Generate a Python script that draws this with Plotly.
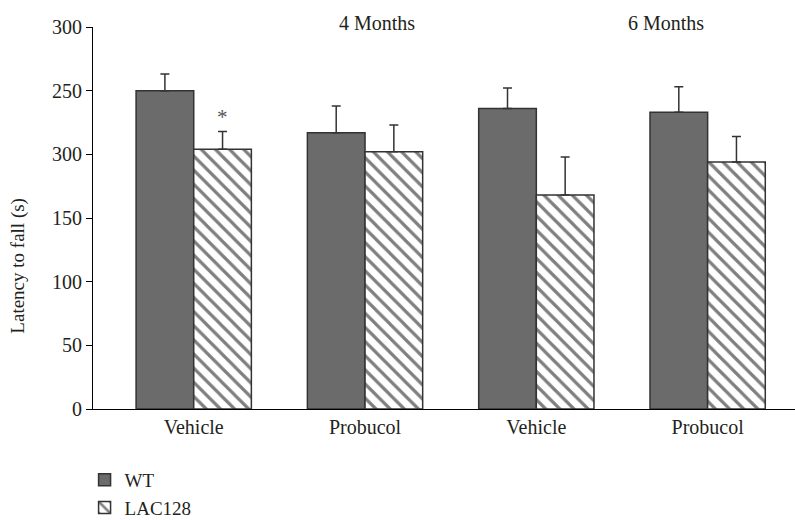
import plotly.graph_objects as go

# Latency to fall on the rotarod, by treatment and genotype
groups = ["Vehicle", "Probucol", "Vehicle", "Probucol"]
wt_mean = [250, 217, 236, 233]
wt_err = [13, 21, 16, 20]
lac_mean = [204, 202, 168, 194]
lac_err = [14, 21, 30, 20]
ytick_vals = [0, 50, 100, 150, 200, 250, 300]
ytick_text = ["0", "50", "100", "150", "300", "250", "300"]
ages = ["4 Months", "6 Months"]

FONT = "Liberation Serif"
INK = "#231f20"
xpos = list(range(len(groups)))

fig = go.Figure()
fig.add_trace(go.Bar(
    x=xpos, y=wt_mean, name="WT",
    marker=dict(color="#6b6b6b", line=dict(color="#333333", width=1.5)),
    error_y=dict(type="data", array=wt_err, arrayminus=[0] * len(wt_err),
                 symmetric=False, color="#333333", thickness=1.5, width=4.5),
))
fig.add_trace(go.Bar(
    x=xpos, y=lac_mean, name="LAC128",
    marker=dict(color="white", line=dict(color="#333333", width=1.5),
                pattern=dict(shape="\\", fgcolor="black", bgcolor="white",
                             size=10, solidity=0.32)),
    error_y=dict(type="data", array=lac_err, arrayminus=[0] * len(lac_err),
                 symmetric=False, color="#333333", thickness=1.5, width=4.5),
))

# significance marker above the first LAC128 bar
fig.add_annotation(x=xpos[0] + 0.167, y=lac_mean[0] + lac_err[0], text="*",
                   showarrow=False, yshift=14, yanchor="middle",
                   font=dict(size=21, color="#555", family=FONT))

# age headings
for label, xc in zip(ages, [1.067, 2.757]):
    fig.add_annotation(x=xc, y=1.0105, xref="x", yref="paper", text=label,
                       showarrow=False, yanchor="middle", xanchor="center",
                       font=dict(size=20, color=INK, family=FONT))

# y-axis title
fig.add_annotation(x=-0.107, y=0.375, xref="paper", yref="paper",
                   text="Latency to fall (s)", textangle=-90, showarrow=False,
                   xanchor="center", yanchor="middle",
                   font=dict(size=19, color=INK, family=FONT))

fig.update_layout(
    width=795, height=520,
    margin=dict(l=93, r=0, t=27, b=111, autoexpand=False),
    paper_bgcolor="white", plot_bgcolor="white",
    font=dict(family=FONT, size=19, color=INK),
    barmode="group", bargap=0.327, bargroupgap=0,
    showlegend=True,
    legend=dict(x=-0.012, y=-0.136, xanchor="left", yanchor="top",
                orientation="v", font=dict(size=19, family=FONT, color=INK),
                bgcolor="rgba(0,0,0,0)"),
    xaxis=dict(range=[-0.588, 3.51], tickvals=xpos, ticktext=groups,
               showline=True, linecolor="black", linewidth=1,
               ticks="", showgrid=False, zeroline=False, automargin=False,
               tickfont=dict(size=20)),
    yaxis=dict(range=[0, 300], tickvals=ytick_vals, ticktext=ytick_text,
               showline=True, linecolor="black", linewidth=1,
               ticks="outside", ticklen=6, tickcolor="black",
               showgrid=False, zeroline=False, automargin=False,
               tickfont=dict(size=20)),
)

fig.write_html("out.html")
